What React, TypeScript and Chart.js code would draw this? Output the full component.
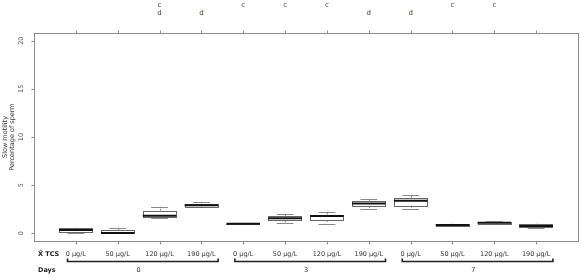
import React, { useEffect, useRef } from 'react';
import { Chart, registerables } from 'chart.js';
Chart.register(...registerables);

// ---- data ----
const doseLabels = ['0 μg/L', '50 μg/L', '120 μg/L', '190 μg/L', '0 μg/L', '50 μg/L', '120 μg/L', '190 μg/L', '0 μg/L', '50 μg/L', '120 μg/L', '190 μg/L'];
const dayLabels = ['0', '3', '7'];
const yTicks = [0, 5, 10, 15, 20];
const mins = [0, 0, 1.58, 2.78, 1.0, 1.1, 1.0, 2.5, 2.52, 0.72, 0.95, 0.52];
const q1s = [0.12, 0, 1.68, 2.82, 1.0, 1.37, 1.4, 2.82, 2.88, 0.75, 1.0, 0.62];
const meds = [0.33, 0.04, 1.82, 2.92, 1.0, 1.57, 1.8, 3.1, 3.38, 0.85, 1.1, 0.77];
const q3s = [0.5, 0.33, 2.33, 3.08, 1.0, 1.8, 1.95, 3.37, 3.66, 0.96, 1.2, 0.92];
const maxs = [0.58, 0.5, 2.78, 3.22, 1.0, 2.0, 2.17, 3.6, 4.0, 1.0, 1.25, 1.0];
const topLetters = ['', '', 'c', '', 'c', 'c', 'c', '', '', 'c', 'c', ''];
const bottomLetters = ['', '', 'd', 'd', '', '', '', 'd', 'd', '', '', ''];
const yTitle = ['Slow motility', 'Percentage of sperm'];

const FONT = '"DejaVu Sans", Verdana, sans-serif';

const boxPlugin = {
  id: 'boxPlugin',
  afterDraw(chart: any) {
    const ctx = chart.ctx as CanvasRenderingContext2D;
    const xs = chart.scales.x;
    const ys = chart.scales.y;
    const ca = chart.chartArea;
    const L = Math.round(ca.left) + 0.5;
    const R = Math.round(ca.right) + 0.5;
    const T = Math.round(ca.top) + 0.5;
    const B = Math.round(ca.bottom) + 0.5;
    ctx.save();

    // boxes
    const n = meds.length;
    for (let i = 0; i < n; i++) {
      const cx = xs.getPixelForValue(i + 1);
      const hw = xs.getPixelForValue(i + 1.4) - cx;
      const cap = hw * 0.5;
      const py = (v: number) => ys.getPixelForValue(v);
      // whiskers (dashed)
      ctx.strokeStyle = '#8a8a8a';
      ctx.lineWidth = 1;
      ctx.setLineDash([2, 2]);
      ctx.beginPath();
      ctx.moveTo(Math.round(cx) + 0.5, py(q3s[i]));
      ctx.lineTo(Math.round(cx) + 0.5, py(maxs[i]));
      ctx.moveTo(Math.round(cx) + 0.5, py(q1s[i]));
      ctx.lineTo(Math.round(cx) + 0.5, py(mins[i]));
      ctx.stroke();
      ctx.setLineDash([]);
      // caps
      ctx.beginPath();
      ctx.moveTo(cx - cap, Math.round(py(maxs[i])) + 0.5);
      ctx.lineTo(cx + cap, Math.round(py(maxs[i])) + 0.5);
      ctx.moveTo(cx - cap, Math.round(py(mins[i])) + 0.5);
      ctx.lineTo(cx + cap, Math.round(py(mins[i])) + 0.5);
      ctx.stroke();
      // box
      const top = py(q3s[i]);
      const bot = py(q1s[i]);
      ctx.fillStyle = '#ffffff';
      ctx.fillRect(cx - hw, top, hw * 2, bot - top);
      ctx.strokeStyle = '#666666';
      ctx.strokeRect(Math.round(cx - hw) + 0.5, Math.round(top) + 0.5, Math.round(hw * 2), Math.max(0, Math.round(bot - top)));
      // median
      ctx.strokeStyle = '#111111';
      ctx.lineWidth = 2;
      ctx.beginPath();
      ctx.moveTo(cx - hw, py(meds[i]));
      ctx.lineTo(cx + hw, py(meds[i]));
      ctx.stroke();
    }

    // frame
    ctx.strokeStyle = '#8c8c8c';
    ctx.lineWidth = 1;
    ctx.strokeRect(L, T, R - L, B - T);

    // x ticks top & bottom
    ctx.beginPath();
    for (let i = 0; i < n; i++) {
      const x = Math.round(xs.getPixelForValue(i + 1)) + 0.5;
      ctx.moveTo(x, T);
      ctx.lineTo(x, T - 3);
      ctx.moveTo(x, B);
      ctx.lineTo(x, B + 3);
    }
    // y ticks
    yTicks.forEach((v) => {
      const y = Math.round(ys.getPixelForValue(v)) + 0.5;
      ctx.moveTo(L, y);
      ctx.lineTo(L - 3, y);
    });
    ctx.stroke();

    // y tick labels (rotated)
    ctx.fillStyle = '#555555';
    ctx.font = `6.5px ${FONT}`;
    ctx.textAlign = 'center';
    ctx.textBaseline = 'middle';
    yTicks.forEach((v) => {
      const y = ys.getPixelForValue(v);
      ctx.save();
      ctx.translate(L - 13, y);
      ctx.rotate(-Math.PI / 2);
      ctx.fillText(String(v), 0, 0);
      ctx.restore();
    });

    // y title
    ctx.fillStyle = '#333333';
    const cy = (ca.top + ca.bottom) / 2;
    yTitle.forEach((t, k) => {
      ctx.save();
      ctx.translate(5 + k * 7, cy);
      ctx.rotate(-Math.PI / 2);
      ctx.fillText(t, 0, 0);
      ctx.restore();
    });

    // letters above
    ctx.fillStyle = '#4a3c30';
    ctx.font = `7px ${FONT}`;
    for (let i = 0; i < n; i++) {
      const x = xs.getPixelForValue(i + 1);
      if (topLetters[i]) ctx.fillText(topLetters[i], x, T - 28);
      if (bottomLetters[i]) ctx.fillText(bottomLetters[i], x, T - 20);
    }

    // dose labels
    ctx.fillStyle = '#333333';
    ctx.font = `6.5px ${FONT}`;
    for (let i = 0; i < n; i++) {
      ctx.fillText(doseLabels[i], xs.getPixelForValue(i + 1), B + 13);
    }
    // row labels
    ctx.font = `bold 6.5px ${FONT}`;
    ctx.textAlign = 'left';
    ctx.fillStyle = '#222222';
    ctx.fillText('X\u0304 TCS', 38, B + 13);
    ctx.fillText('Days', 38, B + 29);

    // brackets + day labels
    ctx.strokeStyle = '#222222';
    ctx.lineWidth = 1.6;
    ctx.textAlign = 'center';
    ctx.font = `6.5px ${FONT}`;
    ctx.fillStyle = '#333333';
    dayLabels.forEach((d, g) => {
      const start = g * 4 + 1;
      const x0 = xs.getPixelForValue(start - 0.2);
      const x1 = xs.getPixelForValue(start + 3.4);
      const yb = B + 20;
      ctx.beginPath();
      ctx.moveTo(x0, yb - 3);
      ctx.lineTo(x0, yb);
      ctx.lineTo(x1, yb);
      ctx.lineTo(x1, yb - 3);
      ctx.stroke();
      ctx.fillText(d, xs.getPixelForValue(start + 1.5), B + 29);
    });

    ctx.restore();
  },
};

export default function App() {
  const ref = useRef<HTMLCanvasElement>(null);
  useEffect(() => {
    document.body.style.margin = '0';
    if (!ref.current) return;
    const chart = new Chart(ref.current, {
      type: 'scatter',
      data: {
        datasets: [
          {
            data: meds.map((m, i) => ({ x: i + 1, y: m })),
            pointRadius: 0,
            showLine: false,
          },
        ],
      },
      options: {
        responsive: false,
        animation: false,
        layout: { padding: { left: 34, top: 33, right: 8, bottom: 37 } },
        scales: {
          x: { type: 'linear', min: 0, max: 13, display: false },
          y: { type: 'linear', min: -0.8, max: 20.8, display: false },
        },
        plugins: { legend: { display: false }, tooltip: { enabled: false } },
      },
      plugins: [boxPlugin],
    });
    return () => chart.destroy();
  }, []);
  return <canvas ref={ref} width={586} height={278} style={{ display: 'block' }} />;
}
